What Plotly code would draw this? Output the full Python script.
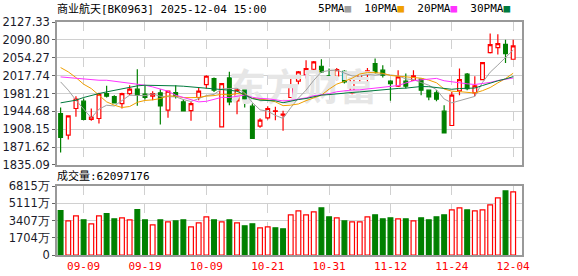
import plotly.graph_objects as go
import pandas as pd

dates = ["09-04","09-05","09-08","09-09","09-10","09-11","09-12","09-15","09-16","09-17",
         "09-18","09-19","09-22","09-23","09-24","09-25","09-26","09-29","09-30","10-09",
         "10-10","10-13","10-14","10-15","10-16","10-17","10-20","10-21","10-22","10-23",
         "10-24","10-27","10-28","10-29","10-30","10-31","11-03","11-04","11-05","11-06",
         "11-07","11-10","11-11","11-12","11-13","11-14","11-17","11-18","11-19","11-20",
         "11-21","11-24","11-25","11-26","11-27","11-28","12-01","12-02","12-03","12-04"]

opens = [1940.3,1896.1,1950.5,1965.5,1928.1,1930.1,1981.1,1975.0,1960.7,1981.1,
         1990.0,1979.8,1975.7,1982.5,1947.1,1983.2,1964.1,1946.4,1973.0,1999.5,
         2011.7,1913.1,2013.1,1966.2,1988.0,1955.3,1914.5,1931.5,1944.4,1936.9,
         1973.0,2006.3,2019.9,2030.8,2036.9,2017.2,2016.5,2026.7,1982.5,2013.1,
         2020.6,2042.4,2028.8,2006.3,1996.1,2006.3,2008.3,2010.4,1988.0,1982.5,
         1945.1,1915.8,1986.6,2020.6,1982.5,2009.7,2064.8,2075.0,2081.8,2051.2]
closes = [1891.3,1935.6,1969.6,1928.1,1932.8,1979.8,1975.7,1962.1,1981.1,1990.0,
          1977.7,1973.0,1981.1,1956.0,1985.9,1975.7,1945.8,1960.7,1985.9,2016.5,
          1988.0,2001.5,1964.1,1989.3,1969.6,1889.3,1926.7,1950.5,1945.8,1939.0,
          1998.1,2025.4,2032.2,2045.8,2025.3,2011.7,2030.1,2004.9,2013.1,2024.0,
          2027.4,2024.0,2018.5,2001.5,2015.1,1996.1,2017.2,1988.0,1974.3,1969.6,
          1900.9,1977.7,2009.7,1991.3,1996.8,2044.4,2081.1,2083.2,2062.8,2078.4]
highs = [1952.6,1936.9,1975.7,1970.9,1950.5,1982.5,1996.8,1977.7,1982.5,1998.1,
         2030.8,1998.1,1985.9,1990.0,1987.3,1998.1,1968.9,1964.1,1992.7,2018.6,
         2013.8,2002.9,2025.4,1991.3,1989.3,1960.7,1930.8,1955.3,1953.9,1945.8,
         2013.1,2027.4,2049.2,2047.8,2051.2,2032.2,2033.5,2028.8,2015.1,2025.4,
         2033.5,2052.6,2039.0,2008.3,2028.8,2021.9,2028.8,2011.7,1989.3,1988.0,
         1957.3,1984.5,2032.2,2023.3,2016.5,2045.8,2103.6,2102.2,2091.3,2091.3]
lows = [1860.7,1887.2,1933.5,1926.7,1925.3,1919.9,1973.0,1960.7,1950.5,1977.7,
        1956.0,1968.9,1967.5,1917.9,1931.5,1970.9,1944.4,1925.3,1967.5,1991.3,
        1984.5,1913.1,1957.3,1939.0,1952.6,1889.3,1911.1,1928.1,1926.7,1904.9,
        1973.0,2000.2,2011.7,2027.4,2023.0,2008.3,2008.3,2001.5,1979.8,2004.9,
        2003.6,2021.9,2013.8,1966.2,1994.7,1991.3,2007.0,1977.7,1967.5,1965.5,
        1899.5,1915.8,1977.7,1987.9,1975.7,2008.3,2062.8,2060.7,2043.7,2050.5]
volumes = [4395,3378,3870,3477,3083,3870,4100,3575,3674,3477,
           4494,3477,2985,3477,3280,3378,3477,2788,3182,3772,
           3477,3280,3477,3182,2886,3083,2690,2788,2690,2591,
           3969,4362,3969,4264,4658,3772,3674,3378,3280,3280,
           3772,3969,3575,3674,3575,3575,3378,3674,3477,3772,
           3969,4461,4658,4461,4362,4461,4953,5642,6330,6232]

ma5_head = [2004.9,1988.0,1967.5,1950.5]
ma10_head = [2034.2,2025.4,2013.8,2000.2,1991.3,1977.7,1964.1,1957.3,1952.6]
ma20_head = [2015.1,2013.8,2011.7,2009.7,2009.7,2008.3,2008.3,2006.3,2004.9,2002.9,
             2001.5,1998.1,1994.7,1990.0,1985.9,1977.7,1973.0,1967.5,1964.1]
ma30_head = [1962.1,1964.1,1967.5,1973.0,1977.7,1981.1,1984.5,1987.9,1991.3,1994.7,
             1996.8,1998.1,1998.1,1998.1,1998.1,1996.8,1996.1,1994.7,1994.7,1992.7,
             1991.3,1989.3,1987.9,1985.9,1977.7,1970.9,1967.5,1966.8,1966.2]

price_ticks = [1835.09,1871.62,1908.15,1944.68,1981.21,2017.74,2054.27,2090.80,2127.33]
vol_ticks = [0,1704,3407,5111,6815]
vol_tick_text = ["0","1704万","3407万","5111万","6815万"]
date_labels = ["09-09","09-19","10-09","10-21","10-31","11-12","11-24","12-04"]

title_text = "商业航天[BK0963] 2025-12-04 15:00"
vol_title = "成交量:62097176"
watermark = "东方财富"
ma_names = ["5PMA","10PMA","20PMA","30PMA"]
ma_colors = ["#a0a0a0","#f0a000","#ff33ff","#007a3d"]

RED = "#ff0000"
GREEN = "#008000"

x = list(range(len(dates)))
cs = pd.Series(closes)
def ma(head, n):
    return head + cs.rolling(n).mean().tolist()[len(head):]
mas = [ma(ma5_head,5), ma(ma10_head,10), ma(ma20_head,20), ma(ma30_head,30)]

vol_colors = []
for i in range(len(closes)):
    up = closes[i] >= (closes[i-1] if i > 0 else opens[i])
    vol_colors.append(RED if up else GREEN)

fig = go.Figure()

# watermark (drawn first so it stays behind the candles)
fig.add_trace(go.Scatter(x=[31.6], y=[1984], mode="text", text=[watermark],
                         textfont=dict(family="Noto Sans CJK SC", size=37, color="#e6e6e6", weight="bold"),
                         hoverinfo="skip", showlegend=False, xaxis="x", yaxis="y"))

for vals, name, col in zip(mas, ma_names, ma_colors):
    fig.add_trace(go.Scatter(x=x, y=vals, mode="lines", name=name,
                             line=dict(color=col, width=1), showlegend=False,
                             xaxis="x", yaxis="y"))

fig.add_trace(go.Candlestick(x=x, open=opens, high=highs, low=lows, close=closes,
                             increasing=dict(line=dict(color=RED, width=1.2), fillcolor="#ffffff"),
                             decreasing=dict(line=dict(color=GREEN, width=1.2), fillcolor=GREEN),
                             whiskerwidth=0, showlegend=False, xaxis="x", yaxis="y"))

fig.add_trace(go.Bar(x=x, y=volumes,
                     marker=dict(color=["#ffffff" if c == RED else GREEN for c in vol_colors],
                                 line=dict(color=vol_colors, width=1.2)),
                     width=0.62, showlegend=False, xaxis="x2", yaxis="y2"))

tick_idx = [dates.index(d) for d in date_labels]
grid = dict(showgrid=True, gridcolor="#d0d0d0", gridwidth=1)
xcommon = dict(range=[-0.47, 60.15], tickvals=tick_idx, ticktext=date_labels,
               showline=True, linecolor="#999999", linewidth=1.5, mirror=True,
               zeroline=False, showgrid=True, gridcolor="#d0d0d0", griddash="dash",
               rangeslider=dict(visible=False), ticks="", automargin=False)
ycommon = dict(showline=True, linecolor="#999999", linewidth=1.5, mirror=True,
               zeroline=False, ticks="outside", ticklen=3, tickcolor="#666666", automargin=False,
               tickfont=dict(family="DejaVu Sans", size=11.5, color="#1a1a2a"), **grid)

fig.update_layout(
    width=578, height=276, margin=dict(l=57, r=56, t=22, b=21, autoexpand=False),
    paper_bgcolor="white", plot_bgcolor="white", boxgap=0.3,
    xaxis=dict(domain=[0, 1], anchor="y", showticklabels=False, **xcommon),
    xaxis2=dict(domain=[0, 1], anchor="y2", matches="x", showticklabels=True,
                tickfont=dict(family="DejaVu Sans Mono", size=11, color=RED), **xcommon),
    yaxis=dict(domain=[0.3863, 1], range=[price_ticks[0], price_ticks[-1]],
               tickvals=price_ticks, ticktext=[f"{v:.2f}" for v in price_ticks], **ycommon),
    yaxis2=dict(domain=[0, 0.296], range=[0, vol_ticks[-1]],
                tickvals=vol_ticks, ticktext=vol_tick_text, **ycommon),
    font=dict(family="DejaVu Sans", size=12, color="#222222"),
)

fig.add_annotation(xref="paper", yref="paper", x=-0.004, y=1.056, xanchor="left", yanchor="middle",
                   text=title_text, showarrow=False,
                   font=dict(family="DejaVu Sans Mono, Noto Sans CJK SC", size=11, color="#000000"))
legend_txt = "&nbsp;&nbsp;".join(f"{n}<span style='color:{c}'>■</span>" for n, c in zip(ma_names, ma_colors))
fig.add_annotation(xref="paper", yref="paper", x=0.978, y=1.056, xanchor="right", yanchor="middle",
                   text=legend_txt, showarrow=False,
                   font=dict(family="DejaVu Sans Mono", size=11, color="#000000"))
fig.add_annotation(xref="paper", yref="paper", x=-0.004, y=0.339, xanchor="left", yanchor="middle",
                   text=vol_title, showarrow=False,
                   font=dict(family="DejaVu Sans Mono, Noto Sans CJK SC", size=11, color="#000000"))

fig.write_html("out.html")
